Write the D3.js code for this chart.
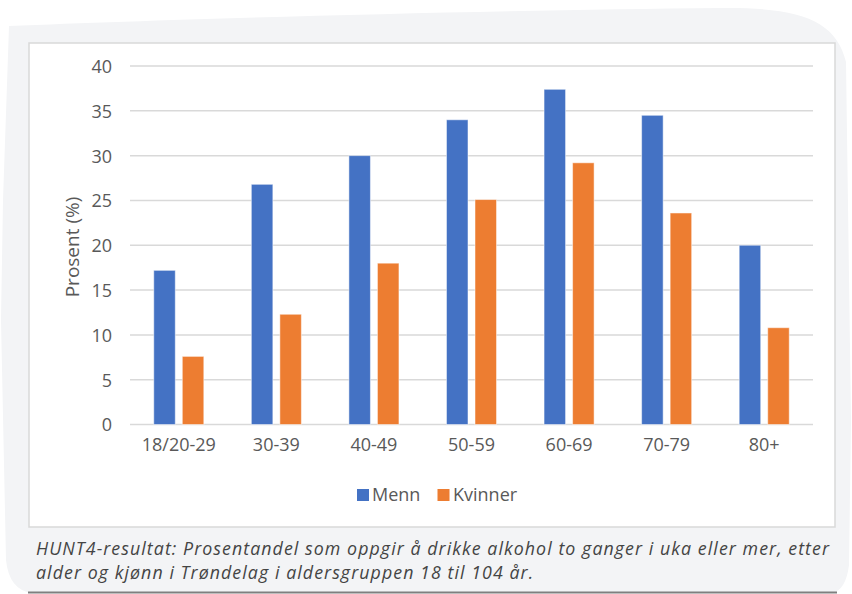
<!DOCTYPE html>
<html>
<head>
<meta charset="utf-8">
<script src="https://cdn.jsdelivr.net/npm/d3@7"></script>
<style>
  html, body { margin: 0; padding: 0; background: #ffffff; }
  svg { display: block; }
</style>
</head>
<body>
<svg id="chart" width="852" height="594"></svg>
<script>
// Andel som drikker alkohol to ganger i uka eller mer, etter alder og kjønn
const categories = ["18/20-29", "30-39", "40-49", "50-59", "60-69", "70-79", "80+"];
const seriesNames = ["Menn", "Kvinner"];
const menn    = [17.2, 26.8, 30.0, 34.0, 37.4, 34.5, 20.0];
const kvinner = [7.6, 12.3, 18.0, 25.1, 29.2, 23.6, 10.8];
const yTicks = [0, 5, 10, 15, 20, 25, 30, 35, 40];
const yTitle = "Prosent (%)";
const captionLines = [
  "HUNT4-resultat: Prosentandel som oppgir å drikke alkohol to ganger i uka eller mer, etter",
  "alder og kjønn i Trøndelag i aldersgruppen 18 til 104 år."
];

const colors = { Menn: "#4472c4", Kvinner: "#ed7d31" };
const textGray = "#595959";
const chartFont = "'Open Sans', 'Noto Sans', sans-serif";

const svg = d3.select("#chart");

// soft grey card behind the figure
svg.append("path")
  .attr("d", "M9,26 C200,18 500,10 720,8 C800,7 836,20 846,62 L851,420 L849,565 Q846,590 832,593 L32,593 Q9,590 6,560 L1,320 L3,200 Z")
  .attr("fill", "#f3f4f6");

// white chart area
svg.append("rect")
  .attr("x", 29).attr("y", 43)
  .attr("width", 806).attr("height", 484)
  .attr("fill", "#ffffff")
  .attr("stroke", "#d9d9d9")
  .attr("stroke-width", 1.5);

const data = categories.map((c, i) => ({ cat: c, Menn: menn[i], Kvinner: kvinner[i] }));

const x0 = d3.scaleBand()
  .domain(categories)
  .range([130, 813])
  .paddingInner(0.487)
  .paddingOuter(0.2435);

const x1 = d3.scaleBand()
  .domain(seriesNames)
  .range([0, x0.bandwidth()])
  .paddingInner(0.2456)
  .paddingOuter(0);

const y = d3.scaleLinear().domain([0, 40]).range([424.5, 66]);

// horizontal gridlines
svg.append("g")
  .selectAll("line")
  .data(yTicks)
  .join("line")
  .attr("x1", 130).attr("x2", 813)
  .attr("y1", d => y(d)).attr("y2", d => y(d))
  .attr("stroke", "#d9d9d9")
  .attr("stroke-width", 1.5);

// y axis labels
const yAxis = d3.axisLeft(y).tickValues(yTicks).tickSize(0).tickPadding(0);
const yG = svg.append("g").attr("transform", "translate(112,0)").call(yAxis);
yG.select(".domain").remove();
yG.selectAll("text")
  .attr("font-family", chartFont)
  .attr("font-size", 18)
  .attr("fill", textGray)
  .attr("dy", "0.36em");

// x axis labels
const xAxis = d3.axisBottom(x0).tickSize(0).tickPadding(0);
const xG = svg.append("g").attr("transform", "translate(0,437)").call(xAxis);
xG.select(".domain").remove();
xG.selectAll("text")
  .attr("font-family", chartFont)
  .attr("font-size", 18)
  .attr("fill", textGray)
  .attr("dy", "0.8em");

// bars
const groups = svg.append("g")
  .selectAll("g")
  .data(data)
  .join("g")
  .attr("transform", d => `translate(${x0(d.cat)},0)`);

groups.selectAll("rect")
  .data(d => seriesNames.map(k => ({ key: k, value: d[k] })))
  .join("rect")
  .attr("x", d => x1(d.key))
  .attr("y", d => y(d.value))
  .attr("width", x1.bandwidth())
  .attr("height", d => y(0) - y(d.value))
  .attr("fill", d => colors[d.key])
  .attr("stroke", "#ffffff")
  .attr("stroke-opacity", 0.5)
  .attr("stroke-width", 1);

// y axis title
svg.append("text")
  .attr("transform", "translate(79,247) rotate(-90)")
  .attr("text-anchor", "middle")
  .attr("font-family", chartFont)
  .attr("font-size", 19)
  .attr("fill", textGray)
  .text(yTitle);

// legend
const legendPos = [{ sq: 357, tx: 373 }, { sq: 437.5, tx: 454 }];
const legend = svg.append("g")
  .selectAll("g")
  .data(seriesNames)
  .join("g");
legend.append("rect")
  .attr("x", (d, i) => legendPos[i].sq)
  .attr("y", 489)
  .attr("width", 12).attr("height", 12)
  .attr("fill", d => colors[d]);
legend.append("text")
  .attr("x", (d, i) => legendPos[i].tx - 1)
  .attr("y", 501)
  .attr("font-family", chartFont)
  .attr("font-size", 18)
  .attr("fill", textGray)
  .text(d => d);

// caption below the chart
const capText = svg.append("g")
  .selectAll("text")
  .data(captionLines)
  .join("text")
  .attr("x", 36)
  .attr("y", (d, i) => 555 + i * 23.5)
  .attr("font-family", chartFont)
  .attr("font-style", "italic")
  .attr("font-size", 17.8)
  .attr("fill", "#444444")
  .text(d => d);

// small letter-spacing so the first line spans the card width
const firstLen = capText.node().getComputedTextLength();
const nChars = captionLines[0].length;
capText.attr("letter-spacing", Math.max(0, (793 - firstLen) / (nChars - 1)));

// rule under the caption
svg.append("line")
  .attr("x1", 28).attr("x2", 837)
  .attr("y1", 592.5).attr("y2", 592.5)
  .attr("stroke", "#7f7f7f")
  .attr("stroke-width", 2);
</script>
</body>
</html>
